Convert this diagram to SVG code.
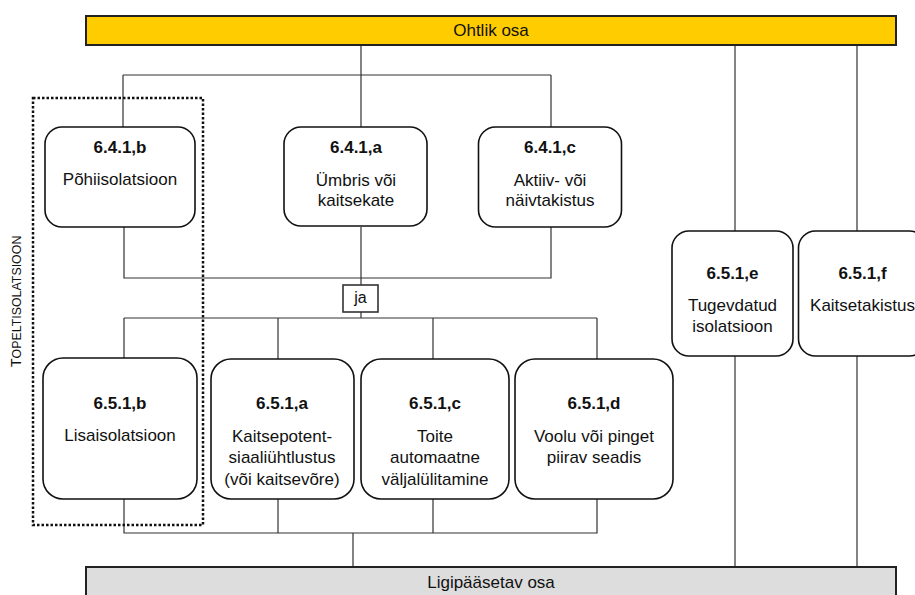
<svg xmlns="http://www.w3.org/2000/svg" width="915" height="595" viewBox="0 0 915 595">
<style>
  text { font-family: "Liberation Sans", Arial, sans-serif; fill: #111; text-anchor: middle; }
  .t { font-size: 17px; font-weight: bold; }
  .l { font-size: 17px; }
  .box { fill: #fff; stroke: #111; stroke-width: 1.6; }
  .wire { fill: none; stroke: #333; stroke-width: 1.2; }
  .bar { stroke: #222; stroke-width: 2; }
</style>
<rect width="915" height="595" fill="#fff"/>

<g id="connectors">
  <path class="wire" d="M361 45 V127 M123 75 H551 M123 75 V127 M551 75 V127"/>
  <path class="wire" d="M124 227 V278 H551 V227 M361 227 V285 M361 312 V318"/>
  <path class="wire" d="M124 318 H597 M124 318 V358 M278 318 V359 M433 318 V359 M597 318 V359"/>
  <path class="wire" d="M124 499 V533 H597 V499 M278 499 V533 M433 499 V533 M353 533 V567"/>
  <path class="wire" d="M735 45 V231 M735 356 V567 M857 45 V231 M857 356 V567"/>
</g>

<g id="ohtlik">
  <rect class="bar" x="86" y="16" width="810" height="29" fill="#FFCC00"/>
  <text class="l" x="491" y="36">Ohtlik osa</text>
</g>
<g id="ligipaasetav">
  <rect class="bar" x="86" y="567" width="810" height="40" fill="#DDDDDD"/>
  <text class="l" x="491" y="588">Ligipääsetav osa</text>
</g>

<g id="topeltisolatsioon">
  <rect x="33" y="98" width="170" height="427" fill="none" stroke="#111" stroke-width="2.5" stroke-dasharray="2.5 2"/>
  <text transform="translate(20.5 367) rotate(-90)" style="text-anchor:start"><tspan style="font-size:14px">T</tspan><tspan style="font-size:12.4px">OPELTISOLATSIOON</tspan></text>
</g>

<g id="n641b">
  <rect class="box" x="45" y="127" width="150" height="100" rx="17"/>
  <text class="t" x="120" y="153">6.4.1,b</text>
  <text class="l" x="120" y="185">Põhiisolatsioon</text>
</g>
<g id="n641a">
  <rect class="box" x="284" y="127" width="143" height="99" rx="17"/>
  <text class="t" x="356" y="153">6.4.1,a</text>
  <text class="l" x="356" y="186">Ümbris või</text>
  <text class="l" x="356" y="206">kaitsekate</text>
</g>
<g id="n641c">
  <rect class="box" x="478.5" y="127" width="143" height="100" rx="17"/>
  <text class="t" x="550" y="153">6.4.1,c</text>
  <text class="l" x="550" y="186">Aktiiv- või</text>
  <text class="l" x="550" y="206">näivtakistus</text>
</g>

<g id="ja">
  <rect x="343" y="285" width="35" height="27" fill="#fff" stroke="#333" stroke-width="1.6"/>
  <text style="font-size:16px" x="360.5" y="303">ja</text>
</g>

<g id="n651b">
  <rect class="box" x="43" y="358" width="154" height="141" rx="20"/>
  <text class="t" x="120" y="409">6.5.1,b</text>
  <text class="l" x="120" y="441">Lisaisolatsioon</text>
</g>
<g id="n651a">
  <rect class="box" x="211" y="359" width="143" height="140" rx="20"/>
  <text class="t" x="282" y="409">6.5.1,a</text>
  <text class="l" x="282" y="442">Kaitsepotent-</text>
  <text class="l" x="282" y="463">siaaliühtlustus</text>
  <text class="l" x="282" y="485">(või kaitsevõre)</text>
</g>
<g id="n651c">
  <rect class="box" x="361" y="359" width="148" height="140" rx="20"/>
  <text class="t" x="435" y="409">6.5.1,c</text>
  <text class="l" x="435" y="442">Toite</text>
  <text class="l" x="435" y="463">automaatne</text>
  <text class="l" x="435" y="485">väljalülitamine</text>
</g>
<g id="n651d">
  <rect class="box" x="515" y="359" width="158" height="140" rx="20"/>
  <text class="t" x="594" y="409">6.5.1,d</text>
  <text class="l" x="594" y="442">Voolu või pinget</text>
  <text class="l" x="594" y="463">piirav seadis</text>
</g>
<g id="n651e">
  <rect class="box" x="672" y="231" width="121" height="125" rx="17"/>
  <text class="t" x="732.5" y="279">6.5.1,e</text>
  <text class="l" x="732.5" y="311">Tugevdatud</text>
  <text class="l" x="732.5" y="332">isolatsioon</text>
</g>
<g id="n651f">
  <rect class="box" x="798.5" y="231" width="128" height="125" rx="17"/>
  <text class="t" x="862.5" y="279">6.5.1,f</text>
  <text class="l" x="862.5" y="311">Kaitsetakistus</text>
</g>
</svg>
